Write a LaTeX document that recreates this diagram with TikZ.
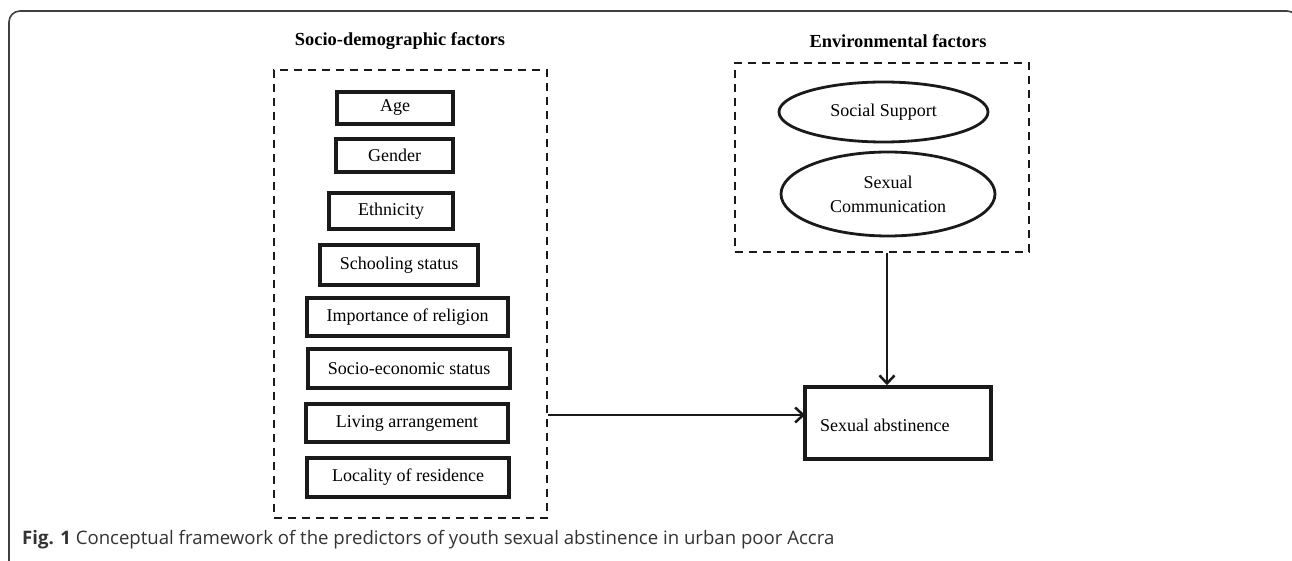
\documentclass[tikz,border=0pt]{standalone}
\usepackage{fontspec}
\setmainfont{Liberation Serif}
\newfontfamily\capfont{Open Sans}
\usetikzlibrary{arrows.meta,shapes.geometric}
\definecolor{ink}{HTML}{1A1A1A}
\definecolor{capgray}{HTML}{333333}
\tikzset{
  lbl/.style={font=\fontsize{18}{20}\selectfont},
  factorbox/.style={draw=ink, line width=3.5pt, inner sep=0pt, lbl},
  dashbox/.style={draw=ink, line width=2.3pt, dash pattern=on 8pt off 6pt, inner sep=0pt},
  oval/.style={ellipse, draw=ink, line width=2.8pt, inner sep=0pt, lbl, align=center},
  arr/.style={draw=ink, line width=2.5pt, -{Straight Barb[length=8pt,width=15pt,line width=2.5pt]}},
  ttl/.style={font=\fontsize{18.4}{20}\selectfont\bfseries}
}
\begin{document}
\begin{tikzpicture}[x=1pt,y=-1pt]
\useasboundingbox (0,0) rectangle (1292,561);
\begin{scope}
\clip (0,0) rectangle (1292,561);
\draw[line width=1.6pt, draw=gray!50!black, rounded corners=11pt] (9,620) -- (9,11) -- (1298,11) -- (1298,620);
\end{scope}
% titles
\node[ttl] (t1) at (400,41) {Socio-demographic factors};
\node[ttl] (t2) at (898,41) {Environmental factors};
% left dashed box
\node[dashbox, minimum width=273pt, minimum height=448pt] (ldash) at (410.5,294) {};
\node[factorbox, minimum width=116pt, minimum height=32pt] (age) at (395,108) {Age};
\node[factorbox, minimum width=117pt, minimum height=33pt] (gender) at (394.5,155.5) {Gender};
\node[factorbox, minimum width=124pt, minimum height=36pt] (eth) at (391,211) {Ethnicity};
\node[factorbox, minimum width=158pt, minimum height=40pt] (school) at (399,265) {Schooling status};
\node[factorbox, minimum width=201pt, minimum height=38pt] (relig) at (407.5,317) {Importance of religion};
\node[factorbox, minimum width=202pt, minimum height=39pt] (ses) at (409,368.5) {Socio-economic status};
\node[factorbox, minimum width=202pt, minimum height=38pt] (living) at (407,423) {Living arrangement};
\node[factorbox, minimum width=202pt, minimum height=39pt] (local) at (408,477.5) {Locality of residence};
% environmental box
\node[dashbox, minimum width=294pt, minimum height=189pt] (env) at (882,157.5) {};
\node[oval, minimum width=209pt, minimum height=60pt] (social) at (883.5,112) {Social Support};
\node[oval, minimum width=214pt, minimum height=84pt] (comm) at (888,194) {Sexual\\[4pt]Communication};
% outcome
\node[factorbox, minimum width=186pt, minimum height=72pt] (abst) at (898,423) {};
\node[lbl, anchor=west, inner sep=0pt] (abstl) at (820,425) {Sexual abstinence};
% connectors
\coordinate (hin) at (805,415);
\coordinate (vx) at (887,0);
\draw[arr] (ldash.east |- hin) -- (hin);
\draw[arr] (env.south -| vx) -- (abst.north -| vx);
% caption
\node[anchor=base west, inner sep=0pt, text=capgray, font=\capfont\fontsize{18.6}{21}\selectfont] (cap) at (22,544) {\textbf{Fig. 1} Conceptual framework of the predictors of youth sexual abstinence in urban poor Accra};
\end{tikzpicture}
\end{document}
